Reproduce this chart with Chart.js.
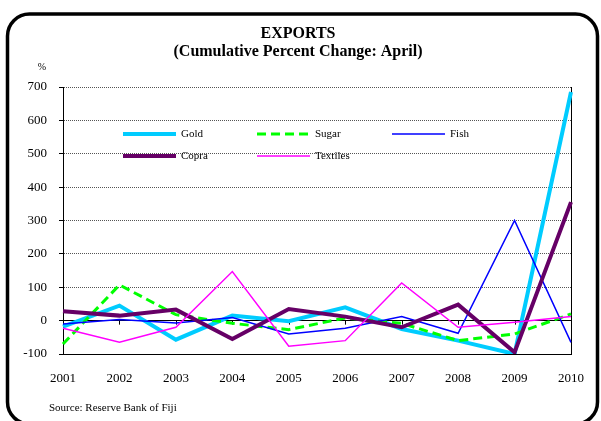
<!DOCTYPE html>
<html>
<head>
<meta charset="utf-8">
<script src="https://cdn.jsdelivr.net/npm/chart.js@4.4.1/dist/chart.umd.min.js"></script>
<style>
  html, body { margin: 0; padding: 0; background: #fff; }
  #wrap { width: 601px; height: 421px; }
</style>
</head>
<body>
<div id="wrap"><canvas id="exportsChart" width="601" height="421"></canvas></div>
<script>
const years = ['2001', '2002', '2003', '2004', '2005', '2006', '2007', '2008', '2009', '2010'];
const gold = [-18, 45, -57, 15, -2, 40, -25, -60, -100, 685];
const sugar = [-70, 107, 18, -8, -27, 8, -8, -60, -40, 20];
const fish = [-10, 3, -7, 9, -40, -23, 12, -38, 300, -65];
const copra = [28, 15, 33, -55, 35, 12, -20, 48, -95, 355];
const textiles = [-23, -65, -20, 147, -77, -60, 113, -20, -5, 12];
const yTicks = [-100, 0, 100, 200, 300, 400, 500, 600, 700];

const SERIF = "'Liberation Serif', 'Times New Roman', serif";

function line(label, data, color, width, dash, order) {
    return {
        label: label,
        data: data,
        borderColor: color,
        backgroundColor: color,
        borderWidth: width,
        borderDash: dash,
        pointRadius: 0,
        tension: 0,
        fill: false,
        order: order
    };
}

// frame, titles, source note and the in-plot legend
const decor = {
    id: 'decor',
    beforeDatasetsDraw(chart) {
        const { ctx, chartArea: a, scales: { x, y } } = chart;
        const y0 = y.getPixelForValue(0);
        ctx.save();
        ctx.strokeStyle = '#000';
        ctx.lineWidth = 1;
        // right edge of the plot
        ctx.beginPath();
        ctx.moveTo(a.right + 0.5, a.top);
        ctx.lineTo(a.right + 0.5, a.bottom);
        ctx.stroke();
        // small ticks hanging off the zero line
        ctx.beginPath();
        years.forEach((yr, i) => {
            const px = Math.round(x.getPixelForValue(i)) + 0.5;
            ctx.moveTo(px, y0);
            ctx.lineTo(px, y0 + 4);
        });
        ctx.stroke();
        ctx.restore();
    },
    afterDraw(chart) {
        const { ctx } = chart;
        ctx.save();
        // rounded outer frame
        ctx.strokeStyle = '#000';
        ctx.lineWidth = 3.5;
        ctx.beginPath();
        ctx.roundRect(7.5, 14, 590, 410, 22);
        ctx.stroke();

        ctx.fillStyle = '#000';
        ctx.textAlign = 'center';
        ctx.textBaseline = 'alphabetic';
        ctx.font = 'bold 16px ' + SERIF;
        ctx.fillText('EXPORTS', 298, 38);
        ctx.fillText('(Cumulative Percent Change: April)', 298, 56);

        ctx.font = '10px ' + SERIF;
        ctx.fillText('%', 42, 70);

        ctx.textAlign = 'left';
        ctx.font = '11px ' + SERIF;
        ctx.fillText('Source: Reserve Bank of Fiji', 49, 411);

        // legend, two rows inside the plot
        const slots = [[123, 134], [257, 134], [392, 134], [123, 156], [257, 156]];
        ctx.textBaseline = 'middle';
        chart.data.datasets.forEach((ds, i) => {
            const [lx, ly] = slots[i];
            ctx.strokeStyle = ds.borderColor;
            ctx.lineWidth = ds.borderWidth;
            ctx.setLineDash(ds.borderDash || []);
            ctx.beginPath();
            ctx.moveTo(lx, ly);
            ctx.lineTo(lx + 53, ly);
            ctx.stroke();
            ctx.setLineDash([]);
            ctx.fillStyle = '#000';
            ctx.fillText(ds.label, lx + 58, ly);
        });
        ctx.restore();
    }
};

new Chart(document.getElementById('exportsChart'), {
    type: 'line',
    data: {
        labels: years,
        datasets: [
            line('Gold', gold, '#00CCFF', 4, [], 5),
            line('Sugar', sugar, '#00FF00', 3, [9, 5], 4),
            line('Fish', fish, '#0000FF', 1.5, [], 3),
            line('Copra', copra, '#660066', 4, [], 2),
            line('Textiles', textiles, '#FF00FF', 1.5, [], 1)
        ]
    },
    options: {
        responsive: false,
        animation: false,
        layout: { padding: { left: 13, right: 22, top: 87, bottom: 27 } },
        plugins: {
            legend: { display: false },
            tooltip: { enabled: false }
        },
        scales: {
            x: {
                offset: false,
                grid: { display: false, drawTicks: false },
                border: { display: true, color: '#000', width: 1 },
                ticks: {
                    color: '#000',
                    font: { family: SERIF, size: 13 },
                    padding: 17,
                    autoSkip: false,
                    maxRotation: 0
                },
                afterFit(scale) { scale.height = 40; }
            },
            y: {
                min: -100,
                max: 700,
                afterBuildTicks(scale) { scale.ticks = yTicks.map(v => ({ value: v })); },
                grid: {
                    color: c => c.tick && c.tick.value === 0 ? '#000' : '#555',
                    lineWidth: 1,
                    drawTicks: true,
                    tickLength: 4,
                    tickColor: '#000'
                },
                border: {
                    display: true,
                    color: '#000',
                    width: 1,
                    dash: c => c.tick && c.tick.value === 0 ? [] : [1, 1]
                },
                ticks: {
                    color: '#000',
                    font: { family: SERIF, size: 13 },
                    padding: 12
                },
                afterFit(scale) { scale.width = 50; }
            }
        }
    },
    plugins: [decor]
});
</script>
</body>
</html>
